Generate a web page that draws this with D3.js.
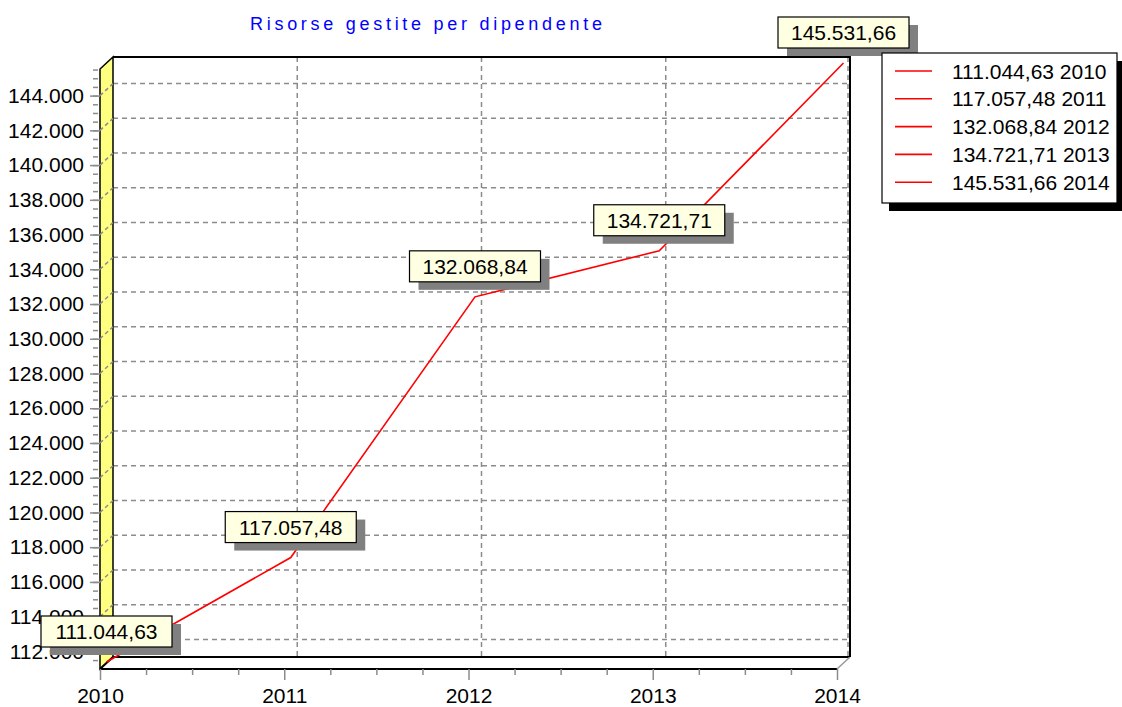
<!DOCTYPE html>
<html>
<head>
<meta charset="utf-8">
<script src="https://cdn.jsdelivr.net/npm/d3@7"></script>
<style>
  body { margin: 0; background: #fff; }
  text { font-family: Arial, "Liberation Sans", sans-serif; }
</style>
</head>
<body>
<div id="wrapper"></div>
<script>
// data
const years = ["2010", "2011", "2012", "2013", "2014"]
const values = [111044.63, 117057.48, 132068.84, 134721.71, 145531.66]
const yTicks = [112000, 114000, 116000, 118000, 120000, 122000, 124000, 126000,
  128000, 130000, 132000, 134000, 136000, 138000, 140000, 142000, 144000]
const title = "Risorse gestite per dipendente"

function drawChart() {
  const it = d3.formatLocale({decimal: ",", thousands: ".", grouping: [3], currency: ["", "€"]})
  const fmtTick = it.format(",.0f")
  const fmtVal = it.format(",.2f")

  const dataset = years.map((y, i) => ({year: y, value: values[i]}))

  // dimensions (front plane) + depth offset for the 3d look
  const dims = {width: 1122, height: 707, left: 100, right: 837, top: 69, bottom: 668}
  const depth = {dx: 13, dy: -12}

  const svg = d3.select("#wrapper").append("svg")
    .attr("width", dims.width)
    .attr("height", dims.height)

  // scales
  const xScale = d3.scalePoint().domain(years).range([dims.left, dims.right])
  const xIndex = d3.scaleLinear().domain([0, years.length - 1]).range([dims.left, dims.right])
  const yScale = d3.scaleLinear().domain(d3.extent(values)).range([dims.bottom, dims.top])

  const backX = d => xScale(d) + depth.dx
  const backY = v => yScale(v) + depth.dy
  const bx0 = dims.left + depth.dx, bx1 = dims.right + depth.dx
  const by0 = dims.top + depth.dy, by1 = dims.bottom + depth.dy + 1

  const grid = "#8c8c8c"

  // back wall
  svg.append("rect")
    .attr("x", bx0).attr("y", by0)
    .attr("width", bx1 - bx0).attr("height", by1 - by0)
    .attr("fill", "#fff")

  // horizontal grid on back wall + left wall
  yTicks.forEach(v => {
    svg.append("line")
      .attr("x1", bx0).attr("x2", bx1)
      .attr("y1", backY(v)).attr("y2", backY(v))
      .attr("stroke", grid).attr("stroke-width", 1.5)
      .attr("stroke-dasharray", "5,4")
  })

  // vertical grid on back wall
  years.slice(1).forEach(y => {
    svg.append("line")
      .attr("x1", backX(y) - (y === years[years.length - 1] ? 2 : 0))
      .attr("x2", backX(y) - (y === years[years.length - 1] ? 2 : 0))
      .attr("y1", by0).attr("y2", by1)
      .attr("stroke", grid).attr("stroke-width", 1.5)
      .attr("stroke-dasharray", "5,4")
  })

  // left (yellow) wall
  svg.append("path")
    .attr("d", `M${dims.left},${dims.top}L${bx0},${by0}L${bx0},${by1}L${dims.left},${dims.bottom + 1}Z`)
    .attr("fill", "#ffff80")
    .attr("stroke", "#000").attr("stroke-width", 1.5)

  yTicks.forEach(v => {
    svg.append("line")
      .attr("x1", dims.left).attr("x2", bx0)
      .attr("y1", yScale(v)).attr("y2", backY(v))
      .attr("stroke", grid).attr("stroke-width", 1.5)
      .attr("stroke-dasharray", "4,3")
  })

  // floor
  svg.append("path")
    .attr("d", `M${dims.left},${dims.bottom + 1}L${bx0},${by1}L${bx1},${by1}L${dims.right},${dims.bottom + 1}Z`)
    .attr("fill", "#fff")
    .attr("stroke", "none")
  svg.append("path")
    .attr("d", `M${dims.left},${dims.bottom + 1}L${bx0},${by1}L${bx1},${by1}M${dims.left},${dims.bottom + 1}L${dims.right},${dims.bottom + 1}`)
    .attr("fill", "none")
    .attr("stroke", "#000").attr("stroke-width", 2)
  svg.append("line")
    .attr("x1", bx1).attr("y1", by1)
    .attr("x2", dims.right).attr("y2", dims.bottom + 1)
    .attr("stroke", "#999").attr("stroke-width", 1.5)

  // back wall top and right border
  svg.append("path")
    .attr("d", `M${bx0},${by0}L${bx1},${by0}L${bx1},${by1}`)
    .attr("fill", "none")
    .attr("stroke", "#000").attr("stroke-width", 2)

  // axes
  const yMinor = d3.range(111500, 145600, 500)
  svg.append("g")
    .attr("transform", `translate(${dims.left},0)`)
    .call(d3.axisLeft(yScale).tickValues(yMinor).tickSize(5).tickFormat(""))
    .call(g => g.select(".domain").remove())
    .call(g => g.selectAll("line").attr("stroke", grid).attr("stroke-width", 1.5).attr("transform", "translate(-2,0)"))

  svg.append("g")
    .attr("transform", `translate(${dims.left},0)`)
    .call(d3.axisLeft(yScale).tickValues(yTicks).tickSize(10).tickPadding(6).tickFormat(fmtTick))
    .call(g => g.select(".domain").remove())
    .call(g => g.selectAll("line").attr("stroke", grid).attr("stroke-width", 1.5))
    .call(g => g.selectAll("text").attr("font-size", 21).attr("fill", "#000")
      .attr("font-family", "Arial, 'Liberation Sans', sans-serif"))

  const xMinor = d3.range(0, years.length - 1, 0.25).filter(d => d % 1 !== 0)
  svg.append("g")
    .attr("transform", `translate(0,${dims.bottom + 1})`)
    .call(d3.axisBottom(xIndex).tickValues(xMinor).tickSize(6).tickFormat(""))
    .call(g => g.select(".domain").remove())
    .call(g => g.selectAll("line").attr("stroke", grid).attr("stroke-width", 1.5))

  svg.append("g")
    .attr("transform", `translate(0,${dims.bottom + 1})`)
    .call(d3.axisBottom(xScale).tickSize(11).tickPadding(8))
    .call(g => g.select(".domain").remove())
    .call(g => g.selectAll("line").attr("stroke", grid).attr("stroke-width", 1.5))
    .call(g => g.selectAll("text").attr("font-size", 21).attr("fill", "#000")
      .attr("font-family", "Arial, 'Liberation Sans', sans-serif"))

  // the line sits halfway into the depth
  const midX = d => xScale(d.year) + depth.dx / 2
  const midY = d => yScale(d.value) + depth.dy / 2

  svg.append("path")
    .attr("d", d3.line().x(midX).y(midY)(dataset))
    .attr("fill", "none")
    .attr("stroke", "#ff0000")
    .attr("stroke-width", 1.6)

  // value labels
  const labels = svg.selectAll(".lbl")
    .data(dataset)
    .join("g")
      .attr("class", "lbl")
      .attr("transform", d => `translate(${midX(d)},${midY(d) - 15})`)

  const boxW = 131, boxH = 31
  labels.append("rect")
    .attr("x", -boxW / 2 + 9).attr("y", -boxH + 8)
    .attr("width", boxW).attr("height", boxH)
    .attr("fill", "#808080")
  labels.append("rect")
    .attr("x", -boxW / 2).attr("y", -boxH)
    .attr("width", boxW).attr("height", boxH)
    .attr("fill", "#ffffe1")
    .attr("stroke", "#000").attr("stroke-width", 1.2)
  labels.append("text")
    .attr("text-anchor", "middle")
    .attr("y", -8)
    .attr("font-size", 21)
    .text(d => fmtVal(d.value))

  // legend
  const legend = svg.append("g").attr("transform", "translate(882,53)")
  legend.append("rect")
    .attr("x", 7).attr("y", 8).attr("width", 235).attr("height", 150)
    .attr("fill", "#000")
  legend.append("rect")
    .attr("width", 235).attr("height", 150)
    .attr("fill", "#fff")
    .attr("stroke", "#000").attr("stroke-width", 1.2)

  const rows = legend.selectAll(".row")
    .data(dataset)
    .join("g")
      .attr("class", "row")
      .attr("transform", (d, i) => `translate(0,${18 + i * 27.8})`)
  rows.append("line")
    .attr("x1", 13).attr("x2", 50)
    .attr("stroke", "#ff0000").attr("stroke-width", 1.6)
  rows.append("text")
    .attr("x", 70).attr("y", 7.5)
    .attr("font-size", 21)
    .text(d => `${fmtVal(d.value)} ${d.year}`)

  // title
  svg.append("text")
    .attr("x", 250).attr("y", 30)
    .attr("font-size", 18)
    .attr("fill", "#0000ff")
    .attr("textLength", 352)
    .attr("lengthAdjust", "spacing")
    .text(title)
}
drawChart()
</script>
</body>
</html>
